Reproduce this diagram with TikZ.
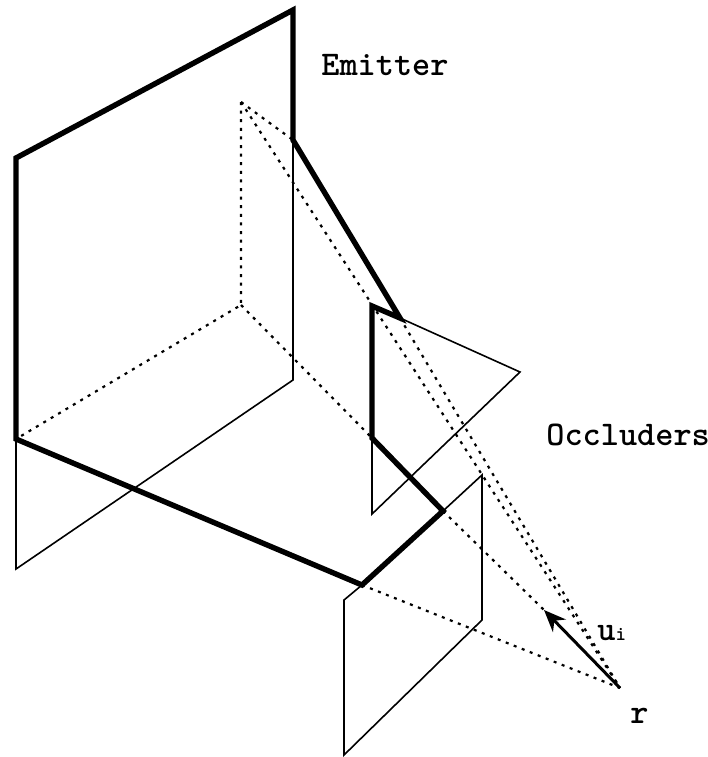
\documentclass[tikz,border=0pt]{standalone}
\usepackage{tikz}
\usetikzlibrary{arrows.meta}
\tikzset{
  heavy/.style={line width=2.7pt,line join=miter},
  light/.style={line width=0.8pt,line join=miter},
  hidden/.style={line width=1.1pt,dash pattern=on 1.5pt off 2.8pt},
  tag/.style={font=\ttfamily\bfseries\fontsize{17.3}{19}\selectfont}
}
\begin{document}
\begin{tikzpicture}[x=0.5pt,y=-0.5pt]
  \useasboundingbox (0,0) rectangle (708,757);
  % corners of the emitter
  \coordinate (emA) at (16,158);
  \coordinate (emB) at (293,10);
  \coordinate (emC) at (293,140);
  \coordinate (emD) at (293,380);
  \coordinate (emE) at (16,569);
  \coordinate (emF) at (16,439);
  % first occluder
  \coordinate (ocA) at (400,318);
  \coordinate (ocB) at (372,306);
  \coordinate (ocC) at (372,438);
  \coordinate (ocD) at (372,514);
  \coordinate (ocE) at (520,372);
  % second occluder
  \coordinate (ocF) at (443,511);
  \coordinate (ocG) at (362,585);
  \coordinate (ocH) at (344,600);
  \coordinate (ocI) at (344,755);
  \coordinate (ocJ) at (482,620);
  \coordinate (ocK) at (482,475);
  % projection of the receiver
  \coordinate (prA) at (241,102);
  \coordinate (prB) at (241,305);
  \coordinate (rec) at (620,688);
  \coordinate (tip) at (544,610);
  % thin outlines
  \draw[light] (emC) -- (emD) -- (emE) -- (emF);
  \draw[light] (ocA) -- (ocE) -- (ocD) -- (ocC);
  \draw[light] (ocF) -- (ocK) -- (ocJ) -- (ocI) -- (ocH) -- (ocG);
  % hidden lines
  \draw[hidden] (prA) -- (prB) -- (emF);
  \draw[hidden] (prA) -- (emC);
  \draw[hidden] (prA) -- (rec);
  \draw[hidden] (ocA) -- (rec);
  \draw[hidden] (ocG) -- (rec);
  \draw[hidden] (prB) -- (ocC);
  \draw[hidden] (ocF) -- (tip);
  % silhouette
  \draw[heavy] (emF) -- (emA) -- (emB) -- (emC) -- (ocA) -- (ocB) -- (ocC) -- (ocF) -- (ocG) -- cycle;
  % direction
  \draw[line width=1.5pt,-{Stealth[length=11pt,width=9pt]}] (rec) -- (tip);
  \node[tag,anchor=base west,inner sep=0pt] (emitter) at (321,75) {Emitter};
  \node[tag,anchor=base west,inner sep=0pt] (occluders) at (546,445) {Occluders};
  \node[tag,anchor=base west,inner sep=0pt] (dir) at (597,640) {u{\fontsize{10}{11}\selectfont i}};
  \node[tag,anchor=base west,inner sep=0pt] (recv) at (630,723) {r};
\end{tikzpicture}
\end{document}
